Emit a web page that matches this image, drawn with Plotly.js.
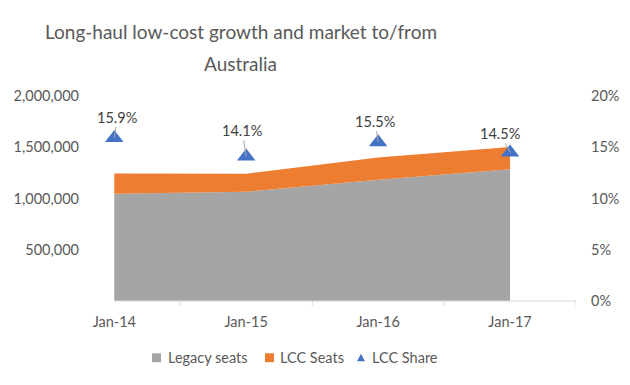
<!DOCTYPE html>
<html>
<head>
<meta charset="utf-8">
<script src="https://cdn.plot.ly/plotly-3.0.1.min.js"></script>
<style>html,body{margin:0;padding:0;background:#fff;}#chart{width:630px;height:385px;}</style>
</head>
<body>
<div id="chart"></div>
<script>
var categories = ["Jan-14", "Jan-15", "Jan-16", "Jan-17"];
var legacySeats = [1046000, 1066000, 1183000, 1285000];
var lccSeats = [198000, 175000, 217000, 218000];
var lccShare = [0.159, 0.141, 0.155, 0.145];
var leftTicks = [500000, 1000000, 1500000, 2000000];
var rightTicks = [0, 0.05, 0.10, 0.15, 0.20];
var seriesNames = ["Legacy seats", "LCC Seats", "LCC Share"];
var seriesColors = ["#A5A5A5", "#ED7D31", "#4472C4"];

var FONT = "Lato, 'Open Sans', sans-serif";
var TICKC = "#595959";

// plot-area pixel geometry helpers (for non-data decorations only)
var PL = 80, PW = 496, PB = 301.5, PH = 206;
function px(x) { return (x - PL) / PW; }
function py(y) { return (PB - y) / PH; }

var traces = [
  {
    x: categories, y: legacySeats, name: seriesNames[0], type: "scatter", mode: "lines",
    stackgroup: "one", line: {width: 0, color: seriesColors[0]}, fillcolor: seriesColors[0],
    hoverinfo: "skip", showlegend: false
  },
  {
    x: categories, y: lccSeats, name: seriesNames[1], type: "scatter", mode: "lines",
    stackgroup: "one", line: {width: 0, color: seriesColors[1]}, fillcolor: seriesColors[1],
    hoverinfo: "skip", showlegend: false
  },
  {
    x: categories, y: lccShare, name: seriesNames[2], type: "scatter", mode: "markers", yaxis: "y2",
    marker: {symbol: "triangle-up", size: 16, color: seriesColors[2]}, hoverinfo: "skip", showlegend: false
  }
];

var labelOffsets = [[3, -21], [-4, -26], [-3, -21], [-10, -19]];
var annotations = categories.map(function (c, i) {
  return {
    x: c, y: lccShare[i], xref: "x", yref: "y2",
    text: (lccShare[i] * 100).toFixed(1) + "%",
    showarrow: true, arrowhead: 0, arrowwidth: 1, arrowcolor: "#A6A6A6",
    ax: labelOffsets[i][0], ay: labelOffsets[i][1], standoff: 0,
    font: {family: FONT, size: 14.5, color: "#404040"}
  };
});
annotations.push({
  text: "Australia", xref: "paper", yref: "paper", x: px(240), y: py(63),
  xanchor: "center", yanchor: "middle", showarrow: false,
  font: {family: FONT, size: 19, color: TICKC}
});

// manual legend
var legendTextX = [166, 278, 370];
var legendSymX = [152, 265, 357];
var LY = 358.5;
seriesNames.forEach(function (n, i) {
  annotations.push({
    text: n, xref: "paper", yref: "paper", x: px(legendTextX[i]), y: py(LY),
    xanchor: "left", yanchor: "middle", showarrow: false,
    font: {family: FONT, size: 14.5, color: TICKC}
  });
});

var shapes = [
  {type: "line", xref: "x", yref: "paper", x0: 0, x1: 3.5, y0: 0, y1: 0, line: {color: "#D9D9D9", width: 1}}
];
[0.5, 1.5, 2.5, 3.5].forEach(function (b) {
  shapes.push({type: "line", xref: "x", yref: "paper", x0: b, x1: b, y0: 0, y1: -5 / PH, line: {color: "#D9D9D9", width: 1}});
});
for (var i = 0; i < 2; i++) {
  shapes.push({type: "rect", xref: "paper", yref: "paper",
    x0: px(legendSymX[i]), x1: px(legendSymX[i] + 9), y0: py(LY - 4.5), y1: py(LY + 4.5),
    fillcolor: seriesColors[i], line: {width: 0}});
}
(function () {
  var x0 = legendSymX[2], x1 = x0 + 8, xm = x0 + 4, yt = LY - 4, yb = LY + 3.5;
  shapes.push({type: "path", xref: "paper", yref: "paper",
    path: "M " + px(x0) + "," + py(yb) + " L " + px(x1) + "," + py(yb) + " L " + px(xm) + "," + py(yt) + " Z",
    fillcolor: seriesColors[2], line: {width: 0}});
})();

var layout = {
  width: 630, height: 385,
  margin: {l: PL, r: 630 - PL - PW, t: PB - PH, b: 385 - PB},
  paper_bgcolor: "#fff", plot_bgcolor: "#fff",
  showlegend: false,
  title: {
    text: "Long-haul low-cost growth and market to/from",
    x: 241 / 630, xanchor: "center", xref: "container",
    y: 1 - 32 / 385, yref: "container", yanchor: "middle",
    font: {family: FONT, size: 19, color: TICKC}
  },
  xaxis: {
    type: "category", range: [-0.26, 3.5], showline: false, showgrid: false, zeroline: false,
    ticks: "", tickfont: {family: FONT, size: 14.5, color: TICKC}, ticklabelstandoff: 10, fixedrange: true
  },
  yaxis: {
    range: [0, 2000000], tickvals: leftTicks, tickformat: ",", showgrid: false, zeroline: false,
    showline: false, ticks: "", tickfont: {family: FONT, size: 14.5, color: TICKC}, fixedrange: true
  },
  yaxis2: {
    overlaying: "y", side: "right", range: [0, 0.2], tickvals: rightTicks, tickformat: ".0%",
    showgrid: false, zeroline: false, showline: false, ticks: "",
    tickfont: {family: FONT, size: 14.5, color: TICKC}, ticklabelstandoff: 14, fixedrange: true
  },
  annotations: annotations,
  shapes: shapes
};

Plotly.newPlot("chart", traces, layout, {staticPlot: true, displayModeBar: false});
</script>
</body>
</html>
